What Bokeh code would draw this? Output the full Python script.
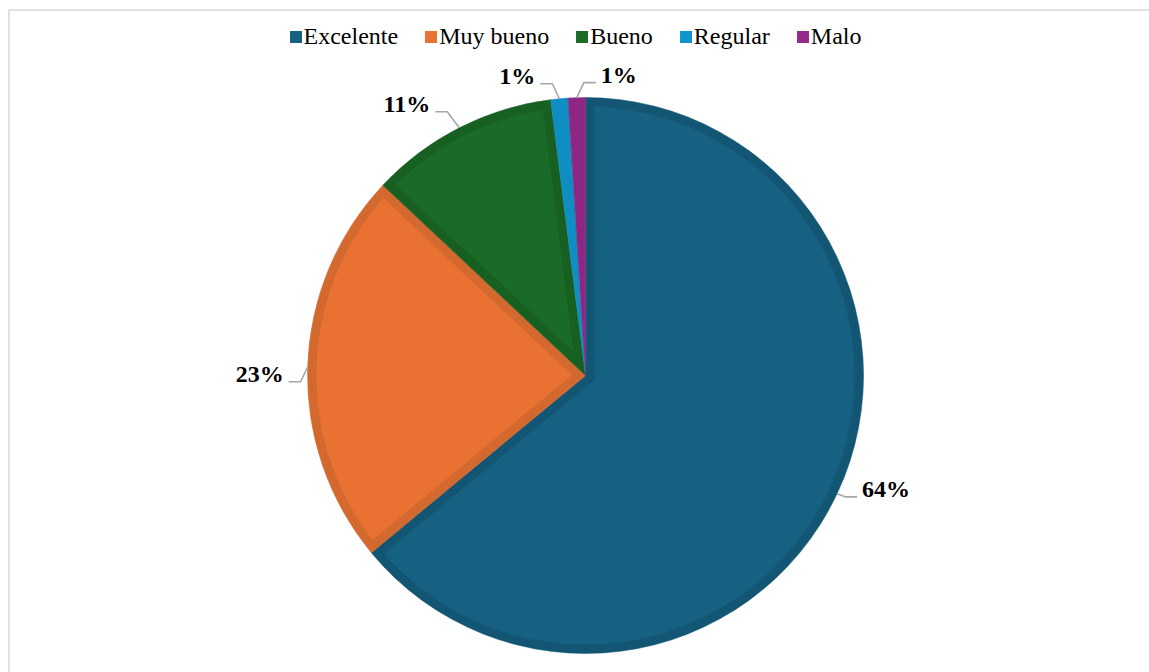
import math

from bokeh.core.properties import value
from bokeh.embed import file_html
from bokeh.models import ColumnDataSource, Legend, LegendItem
from bokeh.plotting import figure
from bokeh.resources import INLINE

# Survey answers and their share of responses (%)
categories = ["Excelente", "Muy bueno", "Bueno", "Regular", "Malo"]
shares = [64, 23, 11, 1, 1]

# Slice colours: inner fill and the darker bevel band around each slice
fill_colors = ["#166082", "#E97132", "#1B6B28", "#0F94CC", "#96298A"]
band_colors = ["#135674", "#D4692F", "#176022", "#0E8EC2", "#8E2783"]

# Layout (screen pixels)
W, H = 1149, 672
CX, CY = 585, H - 375
R = 278
BAND = 9
FONT = "'Times New Roman', 'Liberation Serif', serif"

# Leader-line layout per slice: elbow offset from the rim point (dx, dy down)
# and the signed length of the horizontal run towards the label
elbow_offsets = [(8, 3), (-7, 15), (-12, -16), (-7, -15), (7, -15)]
runs = [12, -12, -12, -12, 12]

total = float(sum(shares))
fracs = [s / total for s in shares]

starts, ends, mids = [], [], []
cum = 0.0
for f in fracs:
    a0 = math.pi / 2 - 2 * math.pi * cum
    a1 = a0 - 2 * math.pi * f
    starts.append(a0)
    ends.append(a1)
    mids.append((a0 + a1) / 2)
    cum += f

p = figure(width=W, height=H, x_range=(0, W), y_range=(0, H),
           x_axis_type=None, y_axis_type=None,
           output_backend="svg", toolbar_location=None, min_border=0)
p.grid.visible = False
p.outline_line_color = None
p.background_fill_color = "white"
p.border_fill_color = "white"

# chart-area border
p.quad(left=8.5, right=W + 50, top=H - 9.5, bottom=-50,
       fill_color=None, line_color="#d9d9d9", line_width=1.5)

# outer wedges in the band colour
src = ColumnDataSource(dict(start=starts, end=ends, color=band_colors))
p.wedge(x=CX, y=CY, radius=R, start_angle="start", end_angle="end",
        direction="clock", fill_color="color", line_color="color",
        line_width=0.5, source=src)


def inset_slice(a0, a1, d):
    """Polygon of a slice shrunk inwards by d pixels (None if nothing left)."""
    h = (a0 - a1) / 2
    m = (a0 + a1) / 2
    if math.sin(h) <= 0:
        return None
    t = d / math.sin(h)
    r_in = R - d
    if t >= r_in:
        return None
    px, py = t * math.cos(m), t * math.sin(m)

    def hit(a):
        ux, uy = math.cos(a), math.sin(a)
        pu = px * ux + py * uy
        disc = pu * pu - (px * px + py * py) + r_in * r_in
        s = -pu + math.sqrt(disc)
        return math.atan2(py + s * uy, px + s * ux)

    phi0 = hit(a0)
    phi1 = hit(a1)
    while phi1 > phi0:
        phi1 -= 2 * math.pi
    n = max(8, int((phi0 - phi1) * 60))
    xs = [CX + px]
    ys = [CY + py]
    for i in range(n + 1):
        a = phi0 + (phi1 - phi0) * i / n
        xs.append(CX + r_in * math.cos(a))
        ys.append(CY + r_in * math.sin(a))
    return xs, ys


pxs, pys, pcols = [], [], []
for a0, a1, c in zip(starts, ends, fill_colors):
    poly = inset_slice(a0, a1, BAND)
    if poly is not None:
        pxs.append(poly[0])
        pys.append(poly[1])
        pcols.append(c)
p.patches(xs=pxs, ys=pys, fill_color=pcols, line_color=None)

# leader lines and percentage labels
lx, ly, lt, la = [], [], [], []
for m, s_, (ox, oy), run in zip(mids, fracs, elbow_offsets, runs):
    ex, ey = CX + R * math.cos(m), CY + R * math.sin(m)
    bx, by = ex + ox, ey - oy
    tx = bx + run
    p.line(x=[ex, bx, tx], y=[ey, by, by], line_color="#a6a6a6", line_width=1.6)
    sign = 1 if run > 0 else -1
    lx.append(tx + 5 * sign)
    ly.append(by + 8)
    lt.append(f"{round(s_ * 100)}%")
    la.append("left" if run > 0 else "right")

lab = ColumnDataSource(dict(x=lx, y=ly, text=lt, align=la))
p.text(x="x", y="y", text="text", text_align="align", text_baseline="middle",
       text_font=value(FONT), text_font_style="bold", text_font_size="24px",
       text_color="black", source=lab)

# legend swatches (off-screen quads used only for the legend)
items = []
for name, c in zip(categories, fill_colors):
    r = p.quad(left=-20, right=-10, top=-10, bottom=-20, fill_color=c, line_color=None)
    items.append(LegendItem(label=name, renderers=[r]))

legend = Legend(items=items, orientation="horizontal", location="top",
                glyph_width=15, glyph_height=15, label_standoff=1, spacing=25,
                padding=0, margin=23, border_line_color=None,
                background_fill_alpha=0,
                label_text_font=FONT, label_text_font_size="24px",
                label_text_color="black")
p.add_layout(legend)

open("out.html", "w").write(file_html(p, INLINE))
